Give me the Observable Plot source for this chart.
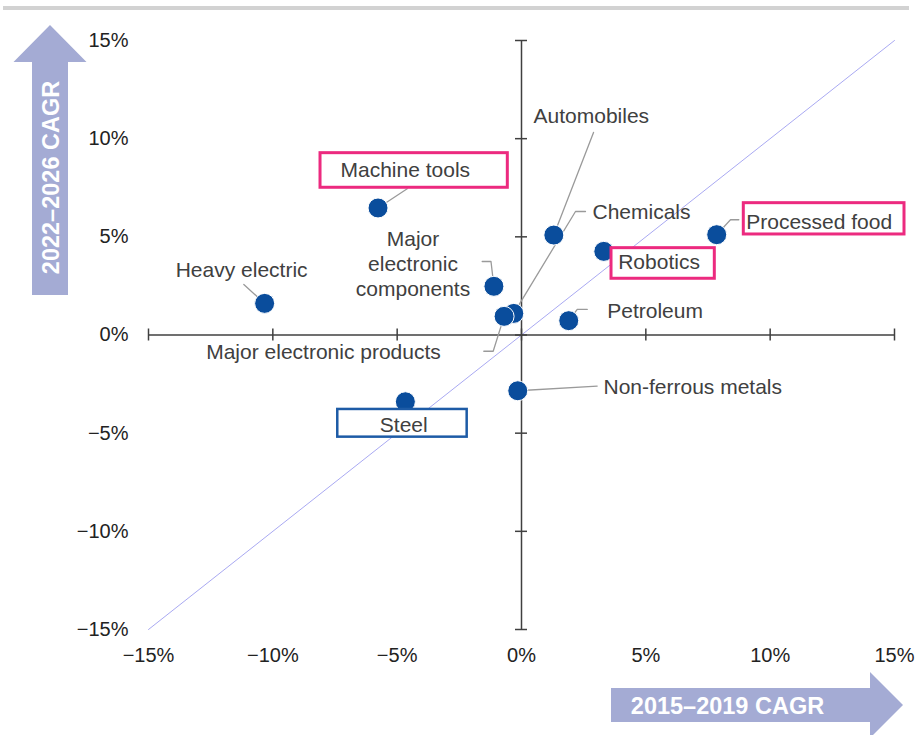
<!DOCTYPE html>
<html><head><meta charset="utf-8">
<script src="https://cdn.jsdelivr.net/npm/d3@7"></script>
<script src="https://cdn.jsdelivr.net/npm/@observablehq/plot@0.6"></script>
<style>body{margin:0;background:#fff;} svg{display:block}</style>
</head><body><div id="chart"></div>
<script>
// ---- data ----
const industries = ["Heavy electric","Machine tools","Steel","Major electronic components","Chemicals","Major electronic products","Automobiles","Petroleum","Robotics","Processed food","Non-ferrous metals"];
const cagr2015_2019 = [-10.33,-5.77,-4.67,-1.11,-0.31,-0.70,1.30,1.90,3.31,7.85,-0.15];
const cagr2022_2026 = [1.61,6.47,-3.40,2.48,1.10,0.95,5.09,0.73,4.26,5.11,-2.84];
const axisTicks = [-15,-10,-5,0,5,10,15];
const axisTickLabels = ["−15%","−10%","−5%","0%","5%","10%","15%"];
const xAxisTitle = "2015–2019 CAGR";
const yAxisTitle = "2022–2026 CAGR";
const diagonalEnds = [-15, 15];
const displayText = {"Major electronic components": "Major\nelectronic\ncomponents"};

// ---- layout (pixel offsets relative to each point) ----
const layout = {
 "Heavy electric": {anchor:"middle", dx:-23, dy:-34.6, leader:[[-20.8,-18.9],[0,0]]},
 "Machine tools": {anchor:"start", dx:-37.5, dy:-37.5, leader:[[29.2,-19.2],[0,0]], box:[-57.5,129.8,-54.8,-20.2,"pink"]},
 "Steel": {anchor:"middle", dx:-1.6, dy:22, box:[-67.6,61.8,7.7,35.4,"blue"]},
 "Major electronic components": {anchor:"middle", dx:-80.9, dy:-23.1, leader:[[-11.7,-24.8],[-2.9,-24.8],[0,0]]},
 "Major electronic products": {anchor:"middle", dx:-180.6, dy:34.9, leader:[[-20.3,34.9],[-10.9,34.9],[0,0]]},
 "Chemicals": {anchor:"start", dx:78.7, dy:-100.9, leader:[[71.7,-101.9],[61.7,-101.9],[0,0]]},
 "Automobiles": {anchor:"start", dx:-20.3, dy:-119.1, leader:[[39.7,-102.6],[0,0]]},
 "Petroleum": {anchor:"start", dx:38.5, dy:-9.5, leader:[[18.5,-11.2],[8.5,-11.2],[0,0]]},
 "Robotics": {anchor:"start", dx:14.4, dy:11.4, box:[7.7,111,-3.2,27.4,"pink"]},
 "Processed food": {anchor:"start", dx:29.5, dy:-12.5, leader:[[22.1,-14.9],[13.8,-14.9],[0,0]], box:[27.1,187.8,-31.5,-0.2,"pink"]},
 "Non-ferrous metals": {anchor:"start", dx:85.7, dy:-3.3, leader:[[79.4,-4.6],[0,0]]}
};

const W = 918, H = 735;
const M = {left:148, right:24, top:40, bottom:106};
const FONT = "Liberation Sans, Arial, Helvetica, sans-serif";
const PINK = "#ec2a7f", BLUE = "#1d5ba6", DOT = "#0a4d9c", ARROW = "#a4abd4";

const xs = Plot.scale({x:{domain:[-15,15], range:[M.left, W - M.right]}});
const ys = Plot.scale({y:{domain:[-15,15], range:[H - M.bottom, M.top]}});
const toData = (px, py) => ({x: xs.invert(px), y: ys.invert(py)});

const points = industries.map((name,i) => ({name, x: cagr2015_2019[i], y: cagr2022_2026[i]}));
const diag = diagonalEnds.map(v => ({x:v, y:v}));

const labels = [], leaders = [], boxes = [];
for (const p of points) {
  const L = layout[p.name];
  const px = xs.apply(p.x), py = ys.apply(p.y);
  labels.push({...toData(px + L.dx, py + L.dy), text: displayText[p.name] || p.name, anchor: L.anchor});
  if (L.leader) L.leader.forEach(([ox,oy]) => leaders.push({...toData(px+ox, py+oy), name:p.name}));
  if (L.box) {
    const [a,b,c,d,col] = L.box;
    const p1 = toData(px+a, py+c), p2 = toData(px+b, py+d);
    boxes.push({x1:p1.x, x2:p2.x, y1:p1.y, y2:p2.y, color: col});
  }
}
const fmt = d => axisTickLabels[axisTicks.indexOf(d)];

const chart = Plot.plot({
  width: W, height: H,
  marginLeft: M.left, marginRight: M.right, marginTop: M.top, marginBottom: M.bottom,
  style: {fontFamily: FONT, background: "white"},
  x: {domain:[-15,15]},
  y: {domain:[-15,15]},
  marks: [
    Plot.line(diag, {x:"x", y:"y", stroke:"#a9a9f2", strokeWidth:1}),
    Plot.ruleY([0], {x1:-15, x2:15, stroke:"#404040", strokeWidth:1.5}),
    Plot.ruleX([0], {y1:-15, y2:15, stroke:"#404040", strokeWidth:1.5}),
    Plot.ruleX(axisTicks, {x: d=>d, y1: ()=>0, y2: ()=>0, insetTop:-6, insetBottom:-6, stroke:"#404040", strokeWidth:1.5}),
    Plot.ruleY(axisTicks, {y: d=>d, x1: ()=>0, x2: ()=>0, insetLeft:-6, insetRight:-6, stroke:"#404040", strokeWidth:1.5}),
    Plot.axisX(axisTicks, {tickSize:0, tickPadding:18, fontSize:20, tickFormat: fmt, label:null, color:"#222"}),
    Plot.axisY(axisTicks, {tickSize:0, tickPadding:20, fontSize:20, tickFormat: fmt, label:null, color:"#222"}),
    Plot.line(leaders, {x:"x", y:"y", z:"name", stroke:"#9a9a9a", strokeWidth:1.3}),
    Plot.dot(points, {x:"x", y:"y", r:10, fill:DOT, stroke:"white", strokeWidth:1}),
    Plot.rect(boxes.filter(b=>b.color==="pink"), {x1:"x1", x2:"x2", y1:"y1", y2:"y2", fill:"white", stroke:PINK, strokeWidth:3}),
    Plot.rect(boxes.filter(b=>b.color==="blue"), {x1:"x1", x2:"x2", y1:"y1", y2:"y2", fill:"white", stroke:BLUE, strokeWidth:2.5}),
    Plot.text(labels.filter(l=>l.anchor==="start"), {x:"x", y:"y", text:"text", textAnchor:"start", fontSize:21, fill:"#404040"}),
    Plot.text(labels.filter(l=>l.anchor==="middle"), {x:"x", y:"y", text:"text", textAnchor:"middle", fontSize:21, fill:"#404040", lineHeight:1.19})
  ]
});

// decorations: top rule and axis-title arrows
const svg = d3.select(chart);
svg.append("rect").attr("x",3).attr("y",6).attr("width",906).attr("height",4).attr("fill","#d2d2d2");
svg.append("polygon").attr("fill",ARROW)
  .attr("points","50,25 86.5,62 68,62 68,295 32,295 32,62 13.5,62");
svg.append("text").attr("transform","translate(51,177.5) rotate(-90)")
  .attr("text-anchor","middle").attr("dominant-baseline","central")
  .attr("font-family",FONT).attr("font-weight","bold").attr("font-size",23.5).attr("fill","white")
  .text(yAxisTitle);
svg.append("polygon").attr("fill",ARROW)
  .attr("points","611,688 870,688 870,672 903,705 870,738 870,722 611,722");
svg.append("text").attr("x",727.5).attr("y",706)
  .attr("text-anchor","middle").attr("dominant-baseline","central")
  .attr("font-family",FONT).attr("font-weight","bold").attr("font-size",23.5).attr("fill","white")
  .text(xAxisTitle);

document.getElementById("chart").appendChild(chart);
</script>
</body></html>
